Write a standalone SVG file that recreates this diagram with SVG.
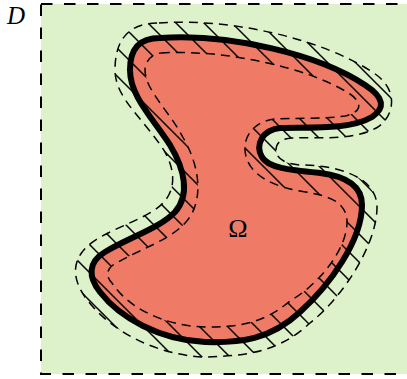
<svg xmlns="http://www.w3.org/2000/svg" width="407" height="379" viewBox="0 0 407 379">
<style>
.dash{fill:none;stroke:#000;stroke-width:1.5;stroke-dasharray:9 6}
.lbl{font-family:"Liberation Serif","DejaVu Serif",serif;font-style:italic;font-size:25px;fill:#000}
</style>
<defs>
<path id="main" d="M160,38 C230,33 320,55 365,85 C385,98 385,108 372,117 C350,130 310,127 280,128 C262,130 255,145 262,157 C268,168 290,170 320,173 C345,176 362,185 362,205 C362,240 330,285 300,312 C270,340 240,343 205,342 C160,340 120,318 100,292 C88,277 88,262 105,252 C130,237 160,228 175,212 C190,195 185,170 170,145 C150,115 130,95 130,70 C130,48 140,38 160,38 Z"/>
<path id="outer" d="M159,23 C232.5,17.75 323.5,39.5 373,72.5 C399,89 395,115 378,127 C354,141 320,137 292,138 C281,138.5 276,143 276,150 C276,158 284,164 300,165 C340,165 377,178 377,207 C377,245 342,298 310,323 C277,354 241,356 204,357 C157,355 112,332 88,301 C70,278 70,256 97,239 C119.5,225.5 150.5,217 164,202 C176,188.4 175.4,169.4 163.4,149.4 C141.4,116.4 115,97.5 115,70 C115,39 129,23 159,23 Z"/>
<path id="inner" d="M161,53 C225,49 310,68 350,94 C362,102 363,112 345,116 C325,119 295,118 275,119 C255,121 244,135 245,150 C246,170 265,185 300,191 C325,195 347,200 347,222 C347,250 318,285 290,301 C262,325 235,327 205,327 C165,326 128,308 112,283 C106,277 106,270 113,265 C140.5,248.5 169.5,240.7 186,222 C204,201.6 200.5,166.7 182.5,136.7 C170,112 145,90 145,70 C145,61 153,53 161,53 Z"/>
<clipPath id="band"><path clip-rule="evenodd" d="M159,23 C232.5,17.75 323.5,39.5 373,72.5 C399,89 395,115 378,127 C354,141 320,137 292,138 C281,138.5 276,143 276,150 C276,158 284,164 300,165 C340,165 377,178 377,207 C377,245 342,298 310,323 C277,354 241,356 204,357 C157,355 112,332 88,301 C70,278 70,256 97,239 C119.5,225.5 150.5,217 164,202 C176,188.4 175.4,169.4 163.4,149.4 C141.4,116.4 115,97.5 115,70 C115,39 129,23 159,23 Z M161,53 C225,49 310,68 350,94 C362,102 363,112 345,116 C325,119 295,118 275,119 C255,121 244,135 245,150 C246,170 265,185 300,191 C325,195 347,200 347,222 C347,250 318,285 290,301 C262,325 235,327 205,327 C165,326 128,308 112,283 C106,277 106,270 113,265 C140.5,248.5 169.5,240.7 186,222 C204,201.6 200.5,166.7 182.5,136.7 C170,112 145,90 145,70 C145,61 153,53 161,53 Z"/></clipPath>
<pattern id="hatch" patternUnits="userSpaceOnUse" x="13" y="0" width="28" height="28">
<path d="M-4,-4 L32,32 M-4,24 L4,32 M24,-4 L32,4" stroke="#000" stroke-width="1.5" fill="none"/>
</pattern>
</defs>
<g id="domain-D">
<rect x="41" y="4" width="372" height="370" fill="#ddf2ca" stroke="#000" stroke-width="2" stroke-dasharray="11.5 11.5"/>
<text class="lbl" x="7" y="24">D</text>
</g>
<g id="omega">
<use href="#main" fill="#ef7b66"/>
<g id="boundary-layer">
<rect x="60" y="10" width="345" height="360" fill="url(#hatch)" clip-path="url(#band)"/>
<use href="#outer" class="dash"/>
<use href="#inner" class="dash"/>
</g>
<use href="#main" fill="none" stroke="#000" stroke-width="6"/>
<text x="238" y="237" text-anchor="middle" font-family="Liberation Serif, DejaVu Serif, serif" font-size="26">Ω</text>
</g>
</svg>
